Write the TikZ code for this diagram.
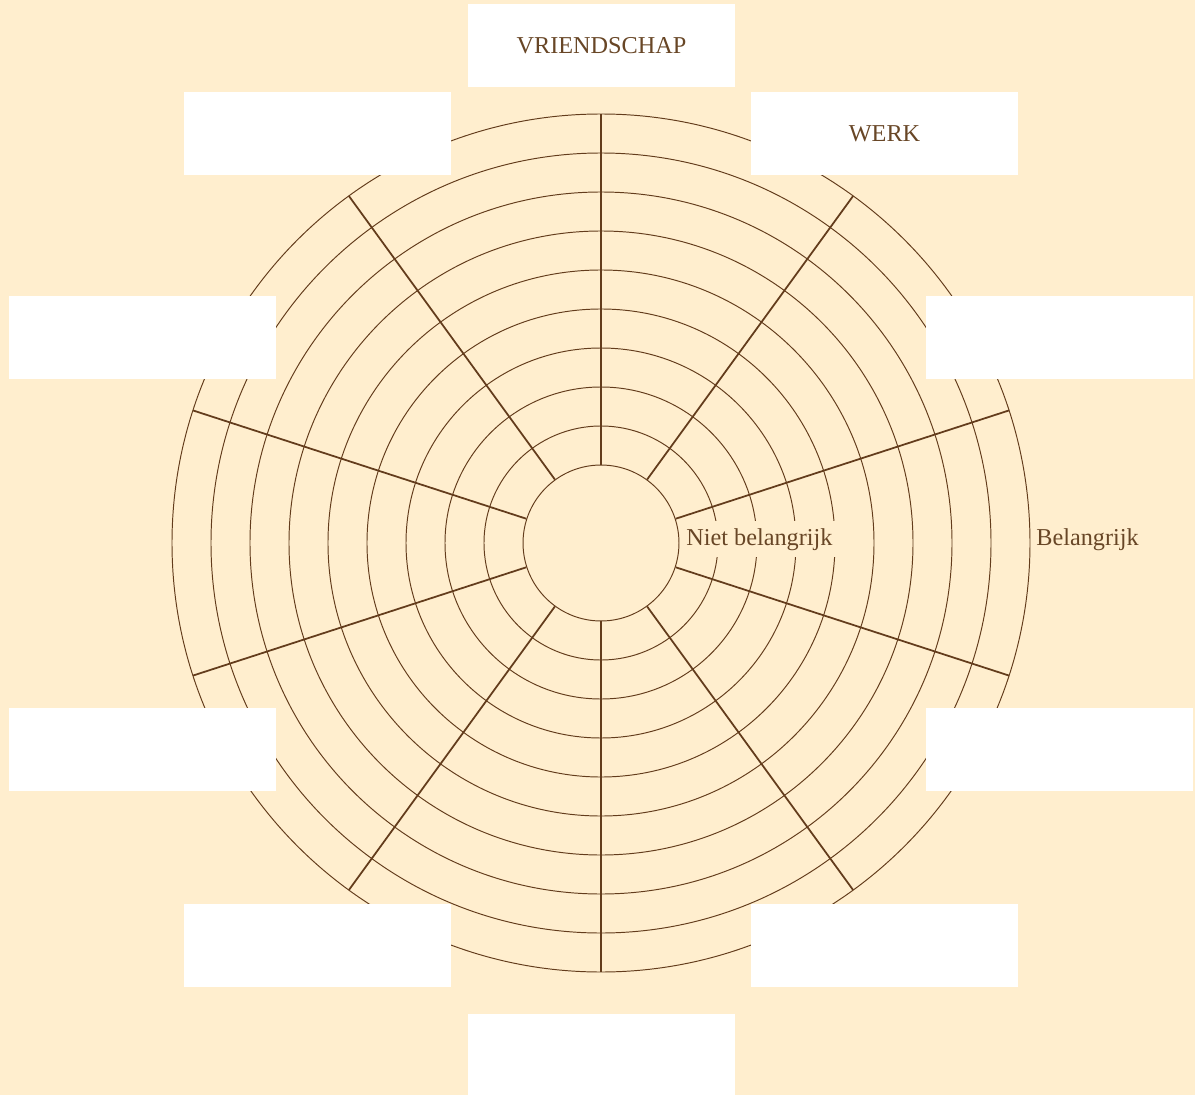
\documentclass[tikz,border=0pt]{standalone}
\usepackage{fontspec}
\setmainfont{Liberation Serif}
\definecolor{wheelcream}{RGB}{255,238,206}
\definecolor{wheelbrown}{RGB}{99,60,28}
\definecolor{wheeltext}{RGB}{104,70,38}
\usetikzlibrary{positioning}

\begin{document}
\begin{tikzpicture}[x=0.02cm, y=0.02cm,
  ring/.style={draw=wheelbrown, line width=0.55pt},
  spoke/.style={draw=wheelbrown, line width=1pt},
  areabox/.style={fill=white, minimum width=5.34cm, minimum height=1.66cm, inner sep=0pt, font=\fontsize{13.8}{16}\selectfont, text=wheeltext},
  scalelabel/.style={fill=wheelcream, anchor=base west, inner xsep=2pt, inner ysep=4pt, font=\fontsize{13.8}{16}\selectfont, text=wheeltext}]
  % Background
  \fill[wheelcream] (-601,543) rectangle (594,-552);
  \useasboundingbox (-601,543) rectangle (594,-552);

  % Rings and hub
  \node[ring, circle, minimum size=3.12cm, inner sep=0pt] (hub) at (0,0) {};
  \foreach \r in {117,156,...,429} \draw[ring] (0,0) circle (\r);

  % Spokes
  \foreach \a in {90,54,...,-234} \draw[spoke] (hub.\a) -- (\a:429);

  % Area boxes
  \node[areabox] (vriendschap) at (0.5,497.5) {VRIENDSCHAP};
  \node[areabox] (werk) at (283.5,409.5) {WERK};
  \node[areabox] (rightup) at (458.5,205.5) {};
  \node[areabox] (rightdown) at (458.5,-206.5) {};
  \node[areabox] (bottomright) at (283.5,-402.5) {};
  \node[areabox] (bottom) at (0.5,-512.5) {};
  \node[areabox] (bottomleft) at (-283.5,-402.5) {};
  \node[areabox] (leftdown) at (-458.5,-206.5) {};
  \node[areabox] (leftup) at (-458.5,205.5) {};
  \node[areabox] (topleft) at (-283.5,409.5) {};

  % Scale labels
  \node[scalelabel] (low) at (81.5,-2) {Niet belangrijk};
  \node[scalelabel] (high) at (431.5,-2) {Belangrijk};
\end{tikzpicture}
\end{document}
